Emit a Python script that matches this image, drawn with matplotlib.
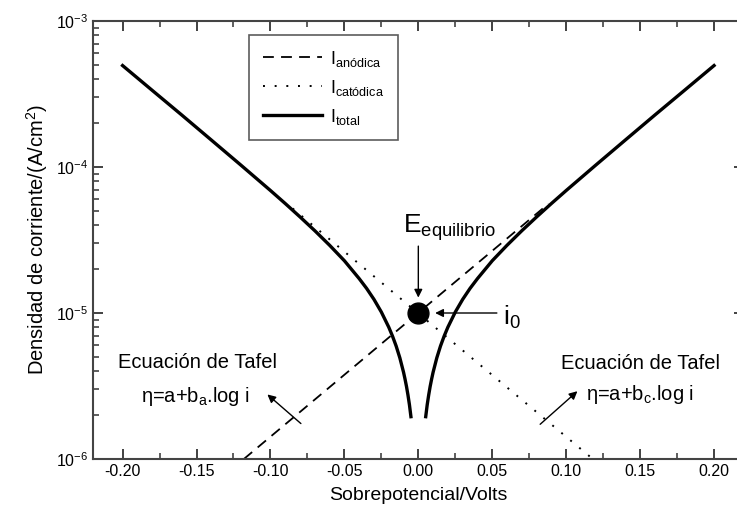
import matplotlib
matplotlib.use("Agg")
import matplotlib.pyplot as plt
from matplotlib.ticker import LogLocator, MultipleLocator, LogFormatterSciNotation

plt.rcParams['font.family'] = ['Liberation Sans', 'DejaVu Sans']
plt.rcParams['mathtext.fontset'] = 'custom'
plt.rcParams['mathtext.rm'] = 'Liberation Sans'
plt.rcParams['mathtext.it'] = 'Liberation Sans:italic'
plt.rcParams['mathtext.bf'] = 'Liberation Sans:bold'

# ---- data ----
# anodic Tafel line (straight on log scale)
x_anodic = [-0.118, 0.088]
y_anodic = [1.0e-6, 5.6e-5]
# cathodic Tafel line
x_cathodic = [-0.085, 0.118]
y_cathodic = [5.2e-5, 1.0e-6]
# total current, left branch (cathodic side)
x_total_left = [-0.20, -0.18, -0.16, -0.14, -0.12, -0.10, -0.09, -0.08, -0.07, -0.06,
                -0.05, -0.04, -0.035, -0.03, -0.025, -0.02, -0.0175, -0.015, -0.0125,
                -0.010, -0.009, -0.008, -0.007, -0.006, -0.005]
y_total_left = [4.95e-4, 3.35e-4, 2.27e-4, 1.53e-4, 1.03e-4, 6.9e-5, 5.62e-5, 4.55e-5,
                3.66e-5, 2.91e-5, 2.28e-5, 1.72e-5, 1.475e-5, 1.24e-5, 1.015e-5, 8.0e-6,
                6.96e-6, 5.94e-6, 4.93e-6, 3.93e-6, 3.53e-6, 3.14e-6, 2.74e-6, 2.35e-6,
                1.95e-6]
# total current, right branch (anodic side)
x_total_right = [0.005, 0.006, 0.007, 0.008, 0.009, 0.010, 0.0125, 0.015, 0.0175, 0.02,
                 0.025, 0.03, 0.035, 0.04, 0.05, 0.06, 0.07, 0.08, 0.09, 0.10, 0.12,
                 0.14, 0.16, 0.18, 0.20]
y_total_right = [1.95e-6, 2.35e-6, 2.74e-6, 3.14e-6, 3.53e-6, 3.93e-6, 4.93e-6, 5.94e-6,
                 6.96e-6, 8.0e-6, 1.015e-5, 1.24e-5, 1.475e-5, 1.72e-5, 2.28e-5, 2.91e-5,
                 3.66e-5, 4.55e-5, 5.62e-5, 6.9e-5, 1.03e-4, 1.53e-4, 2.27e-4, 3.35e-4,
                 4.95e-4]
# equilibrium point
x_eq = [0.0]
y_eq = [1.0e-5]

x_ticks = [-0.20, -0.15, -0.10, -0.05, 0.00, 0.05, 0.10, 0.15, 0.20]

fig = plt.figure(figsize=(7.37, 5.24), dpi=100)
ax = fig.add_axes([0.1262, 0.124, 0.8828, 0.836])
ax.set_yscale('log')
ax.set_xlim(-0.22, 0.22)
ax.set_ylim(1e-6, 1e-3)

ax.plot(x_anodic, y_anodic, color='black', lw=1.3, ls=(0, (6, 4)), label=r'$\mathregular{I_{anódica}}$')
ax.plot(x_cathodic, y_cathodic, color='black', lw=1.4, ls=(0, (1, 5)), label=r'$\mathregular{I_{catódica}}$')
ax.plot(x_total_left, y_total_left, color='black', lw=2.4, label=r'$\mathregular{I_{total}}$')
ax.plot(x_total_right, y_total_right, color='black', lw=2.4)
ax.plot(x_eq, y_eq, 'o', color='black', ms=15, zorder=5)

ax.set_xticks(x_ticks)
ax.set_xticklabels([f"{v:.2f}" for v in x_ticks])
ax.xaxis.set_minor_locator(MultipleLocator(0.025))
ax.yaxis.set_major_locator(LogLocator(base=10, numticks=10))
ax.yaxis.set_minor_locator(LogLocator(base=10, subs=range(2, 10), numticks=20))
ax.yaxis.set_major_formatter(LogFormatterSciNotation())
ax.tick_params(which='both', direction='in', top=True, right=True, colors='#333333',
               labelcolor='black', labelsize=11.5)
ax.tick_params(which='major', length=7, width=1.3)
ax.tick_params(which='minor', length=4, width=1.1)
for s in ax.spines.values():
    s.set_color('#444444')
    s.set_linewidth(1.5)

ax.set_xlabel('Sobrepotencial/Volts', fontsize=14, labelpad=6)
ax.set_ylabel('Densidad de corriente/(A/cm$^2$)', fontsize=14.5, labelpad=4)

leg = ax.legend(loc='upper left', bbox_to_anchor=(0.24, 0.968), fontsize=13,
                handlelength=3.3, frameon=True, fancybox=False, edgecolor='#333333',
                borderpad=0.75, labelspacing=0.5, handletextpad=0.45, borderaxespad=0)
leg.get_frame().set_linewidth(1.2)

# annotations
ax.text(-0.0105, 3.55e-5, r'$\mathregular{E_{equilibrio}}$', fontsize=19, ha='left', va='baseline')
ax.annotate('', xy=(0.0, 1.22e-5), xytext=(0.0, 3.0e-5),
            arrowprops=dict(arrowstyle='-|>', color='black', lw=1.0, mutation_scale=12))
ax.text(0.057, 8.3e-6, r'$\mathregular{i_0}$', fontsize=19, ha='left', va='baseline')
ax.annotate('', xy=(0.0095, 1.0e-5), xytext=(0.055, 1.0e-5),
            arrowprops=dict(arrowstyle='-|>', color='black', lw=1.0, mutation_scale=12))

ax.text(-0.1495, 4.55e-6, 'Ecuación de Tafel', fontsize=14.5, ha='center', va='center')
ax.text(-0.151, 2.7e-6, r'$\mathregular{\eta}$=a+b$_\mathregular{a}$.log i', fontsize=14.5, ha='center', va='center')
ax.annotate('', xy=(-0.1035, 2.85e-6), xytext=(-0.078, 1.7e-6),
            arrowprops=dict(arrowstyle='-|>', color='black', lw=1.0, mutation_scale=12))

ax.text(0.150, 4.5e-6, 'Ecuación de Tafel', fontsize=14.5, ha='center', va='center')
ax.text(0.150, 2.75e-6, r'$\mathregular{\eta}$=a+b$_\mathregular{c}$.log i', fontsize=14.5, ha='center', va='center')
ax.annotate('', xy=(0.109, 3.0e-6), xytext=(0.081, 1.68e-6),
            arrowprops=dict(arrowstyle='-|>', color='black', lw=1.0, mutation_scale=12))

fig.savefig('out.png', dpi=100)
